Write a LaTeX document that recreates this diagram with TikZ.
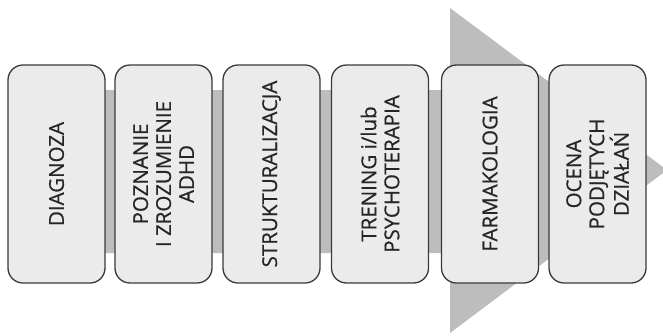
\documentclass[tikz,border=0pt]{standalone}
\usepackage{fontspec}
\setmainfont{Open Sans}[FakeBold=0.6]
\definecolor{bandgray}{HTML}{BDBDBD}
\definecolor{boxfill}{HTML}{EBEBEB}
\definecolor{boxline}{HTML}{3A3A3A}
\definecolor{txt}{HTML}{262626}
\begin{document}
\begin{tikzpicture}[x=1pt,y=1pt,
  stepbox/.style={draw=boxline, line width=1.3pt, fill=boxfill, rounded corners=15pt,
    minimum width=218pt, minimum height=97pt, rotate=90, inner sep=0pt,
    font=\fontsize{20.5}{23}\selectfont, text=txt, align=center}]
\useasboundingbox (0,0) rectangle (663,-335);
\fill[white] (0,0) rectangle (663,-335);
% big arrow
\fill[bandgray] (8,-90) -- (450,-90) -- (450,-8) -- (667,-170) -- (450,-333) -- (450,-253) -- (8,-253) -- cycle;
% steps
\node[stepbox] (s1) at (56.5,-174) {DIAGNOZA};
\node[stepbox] (s2) at (163.5,-174) {POZNANIE\\I ZROZUMIENIE\\ADHD};
\node[stepbox] (s3) at (271.5,-174) {STRUKTURALIZACJA};
\node[stepbox] (s4) at (380,-174) {TRENING i/lub\\PSYCHOTERAPIA};
\node[stepbox] (s5) at (490,-174) {FARMAKOLOGIA};
\node[stepbox] (s6) at (597.5,-174) {OCENA\\PODJĘTYCH\\DZIAŁAŃ};
\end{tikzpicture}
\end{document}
